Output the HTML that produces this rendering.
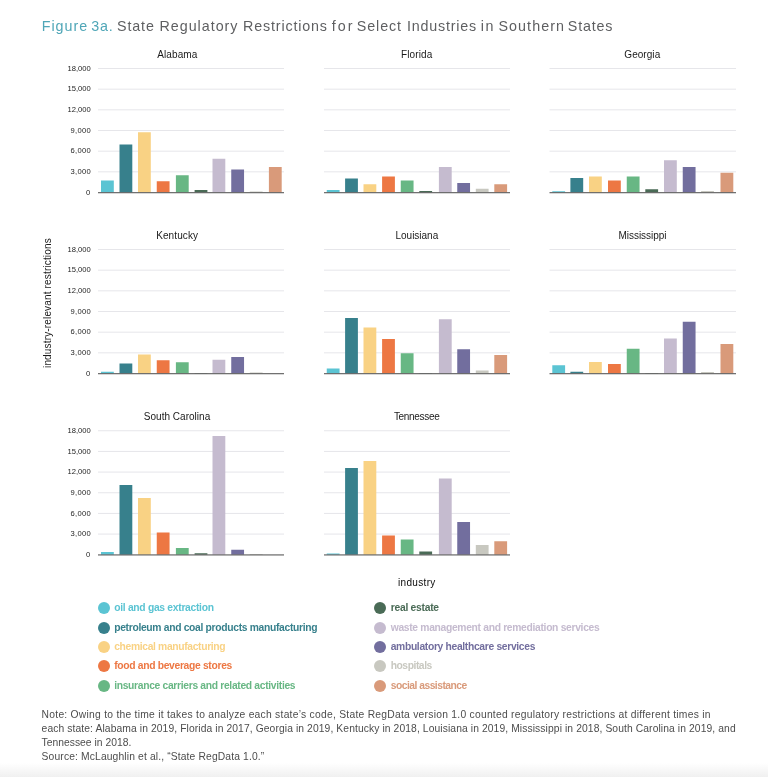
<!DOCTYPE html>
<html><head><meta charset="utf-8"><title>Figure 3a</title>
<style>
html,body{margin:0;padding:0;background:#fff;}
body{width:768px;height:777px;position:relative;overflow:hidden;font-family:"Liberation Sans",sans-serif;}
.abs{position:absolute;white-space:nowrap;}
.t{position:absolute;white-space:nowrap;line-height:20px;}
.b{font-weight:bold;}
.ytitle{font-size:10px;line-height:12px;color:#1a1a1a;transform-origin:0 0;transform:rotate(-90deg);}
.dot{position:absolute;width:12px;height:12px;border-radius:50%;}
.grad{position:absolute;left:0;top:763px;width:768px;height:14px;background:linear-gradient(#fff,#f0f0f0);}
</style></head><body>
<div class="grad"></div>

<svg class="abs" style="left:0;top:0" width="768" height="777" viewBox="0 0 768 777">
<rect x="98" y="68.00" width="186" height="1" fill="#e6e6ea"/>
<rect x="98" y="88.67" width="186" height="1" fill="#e6e6ea"/>
<rect x="98" y="109.33" width="186" height="1" fill="#e6e6ea"/>
<rect x="98" y="130.00" width="186" height="1" fill="#e6e6ea"/>
<rect x="98" y="150.67" width="186" height="1" fill="#e6e6ea"/>
<rect x="98" y="171.33" width="186" height="1" fill="#e6e6ea"/>
<rect x="101.00" y="180.50" width="12.8" height="12.00" fill="#5bc4d3"/>
<rect x="119.50" y="144.50" width="12.8" height="48.00" fill="#37808c"/>
<rect x="138.00" y="132.25" width="12.8" height="60.25" fill="#f9d284"/>
<rect x="156.75" y="181.25" width="12.8" height="11.25" fill="#ed7743"/>
<rect x="175.90" y="175.25" width="12.8" height="17.25" fill="#68b784"/>
<rect x="194.60" y="190.00" width="12.8" height="2.50" fill="#4a6b56"/>
<rect x="212.50" y="158.75" width="12.8" height="33.75" fill="#c5bbcf"/>
<rect x="231.25" y="169.50" width="12.8" height="23.00" fill="#726e9e"/>
<rect x="249.80" y="191.50" width="12.8" height="1.00" fill="#c8c8c0"/>
<rect x="268.90" y="167.00" width="12.8" height="25.50" fill="#d99a7a"/>
<rect x="98" y="192.10" width="186" height="1.15" fill="#626262"/>
<rect x="324" y="68.00" width="186" height="1" fill="#e6e6ea"/>
<rect x="324" y="88.67" width="186" height="1" fill="#e6e6ea"/>
<rect x="324" y="109.33" width="186" height="1" fill="#e6e6ea"/>
<rect x="324" y="130.00" width="186" height="1" fill="#e6e6ea"/>
<rect x="324" y="150.67" width="186" height="1" fill="#e6e6ea"/>
<rect x="324" y="171.33" width="186" height="1" fill="#e6e6ea"/>
<rect x="326.75" y="190.00" width="12.8" height="2.50" fill="#5bc4d3"/>
<rect x="345.10" y="178.50" width="12.8" height="14.00" fill="#37808c"/>
<rect x="363.50" y="184.25" width="12.8" height="8.25" fill="#f9d284"/>
<rect x="382.10" y="176.50" width="12.8" height="16.00" fill="#ed7743"/>
<rect x="400.75" y="180.50" width="12.8" height="12.00" fill="#68b784"/>
<rect x="419.30" y="191.00" width="12.8" height="1.50" fill="#4a6b56"/>
<rect x="438.90" y="167.00" width="12.8" height="25.50" fill="#c5bbcf"/>
<rect x="457.25" y="183.00" width="12.8" height="9.50" fill="#726e9e"/>
<rect x="475.80" y="188.75" width="12.8" height="3.75" fill="#c8c8c0"/>
<rect x="494.30" y="184.25" width="12.8" height="8.25" fill="#d99a7a"/>
<rect x="324" y="192.10" width="186" height="1.15" fill="#626262"/>
<rect x="549.5" y="68.00" width="186.5" height="1" fill="#e6e6ea"/>
<rect x="549.5" y="88.67" width="186.5" height="1" fill="#e6e6ea"/>
<rect x="549.5" y="109.33" width="186.5" height="1" fill="#e6e6ea"/>
<rect x="549.5" y="130.00" width="186.5" height="1" fill="#e6e6ea"/>
<rect x="549.5" y="150.67" width="186.5" height="1" fill="#e6e6ea"/>
<rect x="549.5" y="171.33" width="186.5" height="1" fill="#e6e6ea"/>
<rect x="552.30" y="191.25" width="12.8" height="1.25" fill="#5bc4d3"/>
<rect x="570.40" y="178.00" width="12.8" height="14.50" fill="#37808c"/>
<rect x="589.00" y="176.50" width="12.8" height="16.00" fill="#f9d284"/>
<rect x="608.00" y="180.50" width="12.8" height="12.00" fill="#ed7743"/>
<rect x="626.75" y="176.50" width="12.8" height="16.00" fill="#68b784"/>
<rect x="645.30" y="189.25" width="12.8" height="3.25" fill="#4a6b56"/>
<rect x="664.00" y="160.25" width="12.8" height="32.25" fill="#c5bbcf"/>
<rect x="682.75" y="167.00" width="12.8" height="25.50" fill="#726e9e"/>
<rect x="701.10" y="191.00" width="12.8" height="1.50" fill="#c8c8c0"/>
<rect x="720.50" y="172.75" width="12.8" height="19.75" fill="#d99a7a"/>
<rect x="549.5" y="192.10" width="186.5" height="1.15" fill="#626262"/>
<rect x="98" y="249.00" width="186" height="1" fill="#e6e6ea"/>
<rect x="98" y="269.67" width="186" height="1" fill="#e6e6ea"/>
<rect x="98" y="290.33" width="186" height="1" fill="#e6e6ea"/>
<rect x="98" y="311.00" width="186" height="1" fill="#e6e6ea"/>
<rect x="98" y="331.67" width="186" height="1" fill="#e6e6ea"/>
<rect x="98" y="352.33" width="186" height="1" fill="#e6e6ea"/>
<rect x="101.00" y="371.75" width="12.8" height="1.75" fill="#5bc4d3"/>
<rect x="119.50" y="363.50" width="12.8" height="10.00" fill="#37808c"/>
<rect x="138.00" y="354.50" width="12.8" height="19.00" fill="#f9d284"/>
<rect x="156.75" y="360.25" width="12.8" height="13.25" fill="#ed7743"/>
<rect x="175.90" y="362.25" width="12.8" height="11.25" fill="#68b784"/>
<rect x="194.60" y="373.00" width="12.8" height="0.50" fill="#4a6b56"/>
<rect x="212.50" y="359.75" width="12.8" height="13.75" fill="#c5bbcf"/>
<rect x="231.25" y="357.00" width="12.8" height="16.50" fill="#726e9e"/>
<rect x="249.80" y="372.50" width="12.8" height="1.00" fill="#c8c8c0"/>
<rect x="98" y="373.10" width="186" height="1.15" fill="#626262"/>
<rect x="324" y="249.00" width="186" height="1" fill="#e6e6ea"/>
<rect x="324" y="269.67" width="186" height="1" fill="#e6e6ea"/>
<rect x="324" y="290.33" width="186" height="1" fill="#e6e6ea"/>
<rect x="324" y="311.00" width="186" height="1" fill="#e6e6ea"/>
<rect x="324" y="331.67" width="186" height="1" fill="#e6e6ea"/>
<rect x="324" y="352.33" width="186" height="1" fill="#e6e6ea"/>
<rect x="326.75" y="368.50" width="12.8" height="5.00" fill="#5bc4d3"/>
<rect x="345.10" y="318.00" width="12.8" height="55.50" fill="#37808c"/>
<rect x="363.50" y="327.50" width="12.8" height="46.00" fill="#f9d284"/>
<rect x="382.10" y="339.00" width="12.8" height="34.50" fill="#ed7743"/>
<rect x="400.75" y="353.25" width="12.8" height="20.25" fill="#68b784"/>
<rect x="419.30" y="373.00" width="12.8" height="0.50" fill="#4a6b56"/>
<rect x="438.90" y="319.25" width="12.8" height="54.25" fill="#c5bbcf"/>
<rect x="457.25" y="349.25" width="12.8" height="24.25" fill="#726e9e"/>
<rect x="475.80" y="370.50" width="12.8" height="3.00" fill="#c8c8c0"/>
<rect x="494.30" y="355.00" width="12.8" height="18.50" fill="#d99a7a"/>
<rect x="324" y="373.10" width="186" height="1.15" fill="#626262"/>
<rect x="549.5" y="249.00" width="186.5" height="1" fill="#e6e6ea"/>
<rect x="549.5" y="269.67" width="186.5" height="1" fill="#e6e6ea"/>
<rect x="549.5" y="290.33" width="186.5" height="1" fill="#e6e6ea"/>
<rect x="549.5" y="311.00" width="186.5" height="1" fill="#e6e6ea"/>
<rect x="549.5" y="331.67" width="186.5" height="1" fill="#e6e6ea"/>
<rect x="549.5" y="352.33" width="186.5" height="1" fill="#e6e6ea"/>
<rect x="552.30" y="365.25" width="12.8" height="8.25" fill="#5bc4d3"/>
<rect x="570.40" y="371.75" width="12.8" height="1.75" fill="#37808c"/>
<rect x="589.00" y="362.00" width="12.8" height="11.50" fill="#f9d284"/>
<rect x="608.00" y="364.00" width="12.8" height="9.50" fill="#ed7743"/>
<rect x="626.75" y="348.75" width="12.8" height="24.75" fill="#68b784"/>
<rect x="645.30" y="373.00" width="12.8" height="0.50" fill="#4a6b56"/>
<rect x="664.00" y="338.50" width="12.8" height="35.00" fill="#c5bbcf"/>
<rect x="682.75" y="321.75" width="12.8" height="51.75" fill="#726e9e"/>
<rect x="701.10" y="372.00" width="12.8" height="1.50" fill="#c8c8c0"/>
<rect x="720.50" y="344.00" width="12.8" height="29.50" fill="#d99a7a"/>
<rect x="549.5" y="373.10" width="186.5" height="1.15" fill="#626262"/>
<rect x="98" y="430.25" width="186" height="1" fill="#e6e6ea"/>
<rect x="98" y="450.92" width="186" height="1" fill="#e6e6ea"/>
<rect x="98" y="471.58" width="186" height="1" fill="#e6e6ea"/>
<rect x="98" y="492.25" width="186" height="1" fill="#e6e6ea"/>
<rect x="98" y="512.92" width="186" height="1" fill="#e6e6ea"/>
<rect x="98" y="533.58" width="186" height="1" fill="#e6e6ea"/>
<rect x="101.00" y="552.00" width="12.8" height="2.75" fill="#5bc4d3"/>
<rect x="119.50" y="485.00" width="12.8" height="69.75" fill="#37808c"/>
<rect x="138.00" y="498.00" width="12.8" height="56.75" fill="#f9d284"/>
<rect x="156.75" y="532.50" width="12.8" height="22.25" fill="#ed7743"/>
<rect x="175.90" y="548.00" width="12.8" height="6.75" fill="#68b784"/>
<rect x="194.60" y="553.25" width="12.8" height="1.50" fill="#4a6b56"/>
<rect x="212.50" y="436.00" width="12.8" height="118.75" fill="#c5bbcf"/>
<rect x="231.25" y="549.75" width="12.8" height="5.00" fill="#726e9e"/>
<rect x="249.80" y="554.00" width="12.8" height="0.75" fill="#c8c8c0"/>
<rect x="98" y="554.35" width="186" height="1.15" fill="#626262"/>
<rect x="324" y="430.25" width="186" height="1" fill="#e6e6ea"/>
<rect x="324" y="450.92" width="186" height="1" fill="#e6e6ea"/>
<rect x="324" y="471.58" width="186" height="1" fill="#e6e6ea"/>
<rect x="324" y="492.25" width="186" height="1" fill="#e6e6ea"/>
<rect x="324" y="512.92" width="186" height="1" fill="#e6e6ea"/>
<rect x="324" y="533.58" width="186" height="1" fill="#e6e6ea"/>
<rect x="326.75" y="553.50" width="12.8" height="1.25" fill="#5bc4d3"/>
<rect x="345.10" y="468.00" width="12.8" height="86.75" fill="#37808c"/>
<rect x="363.50" y="461.00" width="12.8" height="93.75" fill="#f9d284"/>
<rect x="382.10" y="535.50" width="12.8" height="19.25" fill="#ed7743"/>
<rect x="400.75" y="539.50" width="12.8" height="15.25" fill="#68b784"/>
<rect x="419.30" y="551.50" width="12.8" height="3.25" fill="#4a6b56"/>
<rect x="438.90" y="478.50" width="12.8" height="76.25" fill="#c5bbcf"/>
<rect x="457.25" y="522.00" width="12.8" height="32.75" fill="#726e9e"/>
<rect x="475.80" y="545.00" width="12.8" height="9.75" fill="#c8c8c0"/>
<rect x="494.30" y="541.25" width="12.8" height="13.50" fill="#d99a7a"/>
<rect x="324" y="554.35" width="186" height="1.15" fill="#626262"/>
</svg>
<div class="t" style="left:41.70px;top:16.35px;font-size:14.3px;color:#4fa6b7;letter-spacing:0.974px">Figure</div>
<div class="t" style="left:91.20px;top:16.35px;font-size:14.3px;color:#4fa6b7;letter-spacing:0.863px">3a.</div>
<div class="t" style="left:117.00px;top:16.35px;font-size:14.3px;color:#5e5f61;letter-spacing:0.877px">State</div>
<div class="t" style="left:159.50px;top:16.35px;font-size:14.3px;color:#5e5f61;letter-spacing:0.984px">Regulatory</div>
<div class="t" style="left:243.00px;top:16.35px;font-size:14.3px;color:#5e5f61;letter-spacing:0.847px">Restrictions</div>
<div class="t" style="left:331.70px;top:16.35px;font-size:14.3px;color:#5e5f61;letter-spacing:2.056px">for</div>
<div class="t" style="left:356.80px;top:16.35px;font-size:14.3px;color:#5e5f61;letter-spacing:0.910px">Select</div>
<div class="t" style="left:407.10px;top:16.35px;font-size:14.3px;color:#5e5f61;letter-spacing:0.780px">Industries</div>
<div class="t" style="left:480.70px;top:16.35px;font-size:14.3px;color:#5e5f61;letter-spacing:1.759px">in</div>
<div class="t" style="left:498.40px;top:16.35px;font-size:14.3px;color:#5e5f61;letter-spacing:1.081px">Southern</div>
<div class="t" style="left:567.80px;top:16.35px;font-size:14.3px;color:#5e5f61;letter-spacing:0.814px">States</div>
<div class="t" style="left:157.20px;top:44.83px;font-size:10px;color:#1a1a1a;letter-spacing:0.122px">Alabama</div>
<div class="t" style="left:400.90px;top:44.83px;font-size:10px;color:#1a1a1a;letter-spacing:0.154px">Florida</div>
<div class="t" style="left:624.30px;top:44.83px;font-size:10px;color:#1a1a1a;letter-spacing:0.054px">Georgia</div>
<div class="t" style="left:156.20px;top:225.94px;font-size:10px;color:#1a1a1a;letter-spacing:0.094px">Kentucky</div>
<div class="t" style="left:395.50px;top:225.94px;font-size:10px;color:#1a1a1a;letter-spacing:-0.014px">Louisiana</div>
<div class="t" style="left:618.40px;top:225.94px;font-size:10px;color:#1a1a1a;letter-spacing:-0.014px">Mississippi</div>
<div class="t" style="left:143.80px;top:407.49px;font-size:10px;color:#1a1a1a;letter-spacing:0.019px">South Carolina</div>
<div class="t" style="left:393.90px;top:407.49px;font-size:10px;color:#1a1a1a;letter-spacing:-0.309px">Tennessee</div>
<div class="t" style="left:398.00px;top:572.83px;font-size:10px;color:#0a0a0a;letter-spacing:0.326px">industry</div>
<div class="t" style="left:67.60px;top:58.77px;font-size:7.6px;color:#1c1c1c;letter-spacing:-0.027px">18,000</div>
<div class="t" style="left:67.60px;top:79.43px;font-size:7.6px;color:#1c1c1c;letter-spacing:-0.027px">15,000</div>
<div class="t" style="left:67.60px;top:100.10px;font-size:7.6px;color:#1c1c1c;letter-spacing:-0.027px">12,000</div>
<div class="t" style="left:70.60px;top:120.77px;font-size:7.6px;color:#1c1c1c;letter-spacing:0.271px">9,000</div>
<div class="t" style="left:70.60px;top:141.43px;font-size:7.6px;color:#1c1c1c;letter-spacing:0.271px">6,000</div>
<div class="t" style="left:70.60px;top:162.10px;font-size:7.6px;color:#1c1c1c;letter-spacing:0.271px">3,000</div>
<div class="t" style="left:86.00px;top:182.77px;font-size:7.6px;color:#1c1c1c;letter-spacing:0.000px">0</div>
<div class="t" style="left:67.60px;top:239.77px;font-size:7.6px;color:#1c1c1c;letter-spacing:-0.027px">18,000</div>
<div class="t" style="left:67.60px;top:260.43px;font-size:7.6px;color:#1c1c1c;letter-spacing:-0.027px">15,000</div>
<div class="t" style="left:67.60px;top:281.10px;font-size:7.6px;color:#1c1c1c;letter-spacing:-0.027px">12,000</div>
<div class="t" style="left:70.60px;top:301.77px;font-size:7.6px;color:#1c1c1c;letter-spacing:0.271px">9,000</div>
<div class="t" style="left:70.60px;top:322.43px;font-size:7.6px;color:#1c1c1c;letter-spacing:0.271px">6,000</div>
<div class="t" style="left:70.60px;top:343.10px;font-size:7.6px;color:#1c1c1c;letter-spacing:0.271px">3,000</div>
<div class="t" style="left:86.00px;top:363.77px;font-size:7.6px;color:#1c1c1c;letter-spacing:0.000px">0</div>
<div class="t" style="left:67.60px;top:421.02px;font-size:7.6px;color:#1c1c1c;letter-spacing:-0.027px">18,000</div>
<div class="t" style="left:67.60px;top:441.68px;font-size:7.6px;color:#1c1c1c;letter-spacing:-0.027px">15,000</div>
<div class="t" style="left:67.60px;top:462.35px;font-size:7.6px;color:#1c1c1c;letter-spacing:-0.027px">12,000</div>
<div class="t" style="left:70.60px;top:483.02px;font-size:7.6px;color:#1c1c1c;letter-spacing:0.271px">9,000</div>
<div class="t" style="left:70.60px;top:503.68px;font-size:7.6px;color:#1c1c1c;letter-spacing:0.271px">6,000</div>
<div class="t" style="left:70.60px;top:524.35px;font-size:7.6px;color:#1c1c1c;letter-spacing:0.271px">3,000</div>
<div class="t" style="left:86.00px;top:545.02px;font-size:7.6px;color:#1c1c1c;letter-spacing:0.000px">0</div>
<div class="t b" style="left:114.20px;top:598.23px;font-size:10.3px;color:#5bc4d3;letter-spacing:-0.289px">oil and gas extraction</div>
<div class="t b" style="left:114.20px;top:617.63px;font-size:10.3px;color:#37808c;letter-spacing:-0.307px">petroleum and coal products manufacturing</div>
<div class="t b" style="left:114.20px;top:636.93px;font-size:10.3px;color:#f9d284;letter-spacing:-0.336px">chemical manufacturing</div>
<div class="t b" style="left:114.20px;top:656.33px;font-size:10.3px;color:#ed7743;letter-spacing:-0.314px">food and beverage stores</div>
<div class="t b" style="left:114.20px;top:675.63px;font-size:10.3px;color:#68b784;letter-spacing:-0.316px">insurance carriers and related activities</div>
<div class="t b" style="left:390.70px;top:598.23px;font-size:10.3px;color:#4a6b56;letter-spacing:-0.255px">real estate</div>
<div class="t b" style="left:390.70px;top:617.63px;font-size:10.3px;color:#c5bbcf;letter-spacing:-0.312px">waste management and remediation services</div>
<div class="t b" style="left:390.70px;top:636.93px;font-size:10.3px;color:#726e9e;letter-spacing:-0.320px">ambulatory healthcare services</div>
<div class="t b" style="left:390.70px;top:656.33px;font-size:10.3px;color:#c8c8c0;letter-spacing:-0.450px">hospitals</div>
<div class="t b" style="left:390.70px;top:675.63px;font-size:10.3px;color:#d99a7a;letter-spacing:-0.507px">social assistance</div>
<div class="t" style="left:41.60px;top:705.23px;font-size:10.3px;color:#4d4d4d;letter-spacing:0.257px">Note: Owing to the time it takes to analyze each state’s code, State RegData version 1.0 counted regulatory restrictions at different times in</div>
<div class="t" style="left:41.60px;top:719.16px;font-size:10.3px;color:#4d4d4d;letter-spacing:0.099px">each state: Alabama in 2019, Florida in 2017, Georgia in 2019, Kentucky in 2018, Louisiana in 2019, Mississippi in 2018, South Carolina in 2019, and</div>
<div class="t" style="left:41.60px;top:733.09px;font-size:10.3px;color:#4d4d4d;letter-spacing:0.023px">Tennessee in 2018.</div>
<div class="t" style="left:41.60px;top:747.02px;font-size:10.3px;color:#4d4d4d;letter-spacing:0.136px">Source: McLaughlin et al., “State RegData 1.0.”</div>
<div class="abs ytitle" style="left:42px;top:368.2px;letter-spacing:0.16px">industry-relevant restrictions</div>
<div class="dot" style="left:97.7px;top:602.2px;background:#5bc4d3"></div>
<div class="dot" style="left:97.7px;top:621.6px;background:#37808c"></div>
<div class="dot" style="left:97.7px;top:641.0px;background:#f9d284"></div>
<div class="dot" style="left:97.7px;top:660.4px;background:#ed7743"></div>
<div class="dot" style="left:97.7px;top:679.8px;background:#68b784"></div>
<div class="dot" style="left:373.8px;top:602.2px;background:#4a6b56"></div>
<div class="dot" style="left:373.8px;top:621.6px;background:#c5bbcf"></div>
<div class="dot" style="left:373.8px;top:641.0px;background:#726e9e"></div>
<div class="dot" style="left:373.8px;top:660.4px;background:#c8c8c0"></div>
<div class="dot" style="left:373.8px;top:679.8px;background:#d99a7a"></div>
</body></html>
